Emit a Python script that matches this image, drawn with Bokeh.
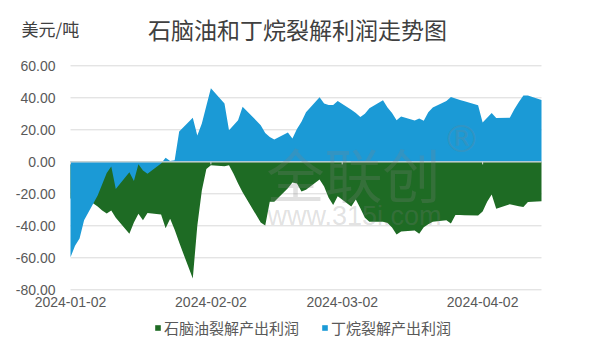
import pandas as pd
from bokeh.plotting import figure
from bokeh.models import Range1d, Label, Legend, LegendItem, ColumnDataSource
from bokeh.core.properties import value
from bokeh.embed import file_html
from bokeh.resources import INLINE

# ---------------- data ----------------
dates = ["2024-01-02", "2024-01-03", "2024-01-04", "2024-01-05", "2024-01-08", "2024-01-09",
         "2024-01-10", "2024-01-11", "2024-01-12", "2024-01-15", "2024-01-16", "2024-01-17",
         "2024-01-18", "2024-01-19", "2024-01-22", "2024-01-23", "2024-01-24", "2024-01-25",
         "2024-01-26", "2024-01-29", "2024-01-30", "2024-01-31",
         "2024-02-01", "2024-02-02", "2024-02-05", "2024-02-06", "2024-02-07", "2024-02-08",
         "2024-02-09", "2024-02-13", "2024-02-14", "2024-02-15", "2024-02-16", "2024-02-19",
         "2024-02-20", "2024-02-21", "2024-02-22", "2024-02-23", "2024-02-26", "2024-02-27",
         "2024-02-28", "2024-02-29",
         "2024-03-01", "2024-03-04", "2024-03-05", "2024-03-06", "2024-03-07", "2024-03-08",
         "2024-03-11", "2024-03-12", "2024-03-13", "2024-03-14", "2024-03-15", "2024-03-18",
         "2024-03-19", "2024-03-20", "2024-03-21", "2024-03-22", "2024-03-25", "2024-03-26",
         "2024-03-27", "2024-03-28", "2024-03-29",
         "2024-04-01", "2024-04-02", "2024-04-03", "2024-04-04", "2024-04-05", "2024-04-08",
         "2024-04-09", "2024-04-10", "2024-04-11", "2024-04-12", "2024-04-15"]

naphtha_profit = [-23, -23, -23, -22, -28, -30.5, -32.3, -30.5, -35, -45, -38, -32.5,
                  -36.5, -32, -33, -41.5, -35.6, -42.5, -50.5, -73, -40, -18,
                  -4.5, -2.2, -2.8, -2.2, -7.5, -13.5, -19, -38, -39.8, -25, -25, -16.5,
                  -13, -13.5, -18.5, -17.5, -11, -15.5, -22.5, -27,
                  -21.5, -28, -23.5, -29, -35, -37.5, -37.5, -38.3, -41, -45.5, -43.5, -43,
                  -45, -40.9, -39, -37.5, -36.5, -38.5, -33.2, -33.3, -33.4,
                  -33.5, -31, -25, -20.5, -29.3, -26.5, -27.2, -27.8, -28.2, -25.2, -24.6]

butane_profit = [-59.7, -52.5, -48, -36.5, -21, -14, -7, -3, -17, -6.5, -12, -1.5,
                 -5.5, -7.5, -1, 2.6, 0.5, 1, 19, 27.5, 16.5, 24,
                 35, 46, 36.5, 19.7, 22.9, 26, 34.4, 22.9, 18, 15.5, 14, 18.3,
                 14.5, 20.5, 25, 31, 40.3, 36.5, 35.5, 35.5,
                 38, 32.5, 30.5, 28, 30, 33.5, 38.5, 34, 30.5, 26, 28.3, 25.8,
                 27, 25.6, 31, 34, 38, 40.5, 39.6, 38.7, 37.8,
                 35.3, 24.6, 27.5, 30.5, 27.3, 27.5, 32.8, 37.3, 41.5, 41.5, 38.6]

y_ticks = [-80, -60, -40, -20, 0, 20, 40, 60]
x_tick_labels = ["2024-01-02", "2024-02-02", "2024-03-02", "2024-04-02"]

series_names = ["石脑油裂解产出利润", "丁烷裂解产出利润"]
title_text = "石脑油和丁烷裂解利润走势图"
unit_text = "美元/吨"

# ---------------- styling / layout ----------------
GREEN = "#1e6b24"
BLUE = "#1b9ad6"
GRID = "#d9d9d9"
LABEL = "#595959"
CJK = "Noto Sans CJK SC"
LATIN = "Liberation Sans"

W, H = 584, 346
PLOT_L, PLOT_R = 70, 541          # pixel edges of the plotting area
PLOT_T, PLOT_B = 65.3, 289.3

df = pd.DataFrame({"date": pd.to_datetime(dates),
                   "naphtha": naphtha_profit,
                   "butane": butane_profit})
src = ColumnDataSource(df)

tick_dates = pd.to_datetime(x_tick_labels)
first, last = df["date"].min(), df["date"].max()
y_min, y_max = min(y_ticks), max(y_ticks)

# the frame spans the whole canvas; ranges are widened so the data area lands on PLOT_*
span_days = (last - first) / pd.Timedelta(days=1)
px_per_day = (PLOT_R - PLOT_L) / span_days
px_per_unit = (PLOT_B - PLOT_T) / (y_max - y_min)
x_start = first - pd.Timedelta(days=PLOT_L / px_per_day)
x_end = last + pd.Timedelta(days=(W - PLOT_R) / px_per_day)
y_start = y_min - (H - PLOT_B) / px_per_unit
y_end = y_max + PLOT_T / px_per_unit

p = figure(width=W, height=H, output_backend="svg", toolbar_location=None,
           x_axis_type="datetime", x_axis_location=None, y_axis_location=None,
           x_range=Range1d(x_start.to_pydatetime(), x_end.to_pydatetime()),
           y_range=Range1d(y_start, y_end),
           min_border=0)
p.outline_line_color = None
p.background_fill_color = "white"
p.border_fill_color = "white"
p.grid.visible = False

# horizontal gridlines
p.segment(x0=[first] * len(y_ticks), x1=[last] * len(y_ticks), y0=y_ticks, y1=y_ticks,
          line_color=GRID, line_width=1)

# areas: naphtha behind, butane in front
r_g = p.varea(x="date", y1=0, y2="naphtha", source=src, fill_color=GREEN)
r_b = p.varea(x="date", y1=0, y2="butane", source=src, fill_color=BLUE)

# horizontal axis line at zero with its small tick marks
p.segment(x0=[first], x1=[last], y0=[0], y1=[0], line_color=GRID, line_width=1.2)
p.segment(x0=tick_dates, y0=0, x1=tick_dates, y1=-1.6, line_color=GRID, line_width=1)

# y tick labels
p.text(x=[first] * len(y_ticks), y=y_ticks, text=[f"{v:.2f}" for v in y_ticks],
       x_offset=-15, text_align="right", text_baseline="middle",
       text_font=value(LATIN), text_font_size=value("14px"), text_color=LABEL)
# x tick labels (below the bottom gridline)
p.text(x=tick_dates, y=[y_min] * len(tick_dates), text=x_tick_labels,
       y_offset=7, text_align="center", text_baseline="top",
       text_font=value(LATIN), text_font_size=value("14px"), text_color=LABEL)

# title row (screen coords from the canvas' bottom-left)
p.add_layout(Label(x=297, y=H - 28, x_units="screen", y_units="screen", text=title_text,
                   text_font=CJK, text_font_size="23px", text_color="#404040",
                   text_align="center", text_baseline="middle"))
p.add_layout(Label(x=21, y=H - 28, x_units="screen", y_units="screen", text=unit_text,
                   text_font=CJK, text_font_size="17px", text_color="#404040",
                   text_align="left", text_baseline="middle"))

# watermark
WM = "#808080"
p.add_layout(Label(x=353, y=H - 172, x_units="screen", y_units="screen", text="全联创",
                   text_font=CJK, text_font_size="58px", text_color=WM, text_alpha=0.24,
                   text_align="center", text_baseline="middle"))
p.add_layout(Label(x=461, y=H - 138, x_units="screen", y_units="screen", text="®",
                   text_font="DejaVu Sans", text_font_size="38px", text_color=WM,
                   text_alpha=0.24, text_align="center", text_baseline="middle"))
p.add_layout(Label(x=354, y=H - 215, x_units="screen", y_units="screen", text="www.315i.com",
                   text_font=LATIN, text_font_size="27px", text_color=WM, text_alpha=0.24,
                   text_align="center", text_baseline="middle"))

# legend
legend = Legend(items=[LegendItem(label=series_names[0], renderers=[r_g]),
                       LegendItem(label=series_names[1], renderers=[r_b])],
                location=(154, H - 338), orientation="horizontal",
                glyph_width=7, glyph_height=7, label_standoff=3, spacing=22,
                padding=0, margin=0, label_height=20,
                label_text_font=CJK, label_text_font_size="15px", label_text_color=LABEL,
                border_line_color=None, background_fill_alpha=0)
p.add_layout(legend, "center")

open("out.html", "w").write(file_html(p, INLINE))
